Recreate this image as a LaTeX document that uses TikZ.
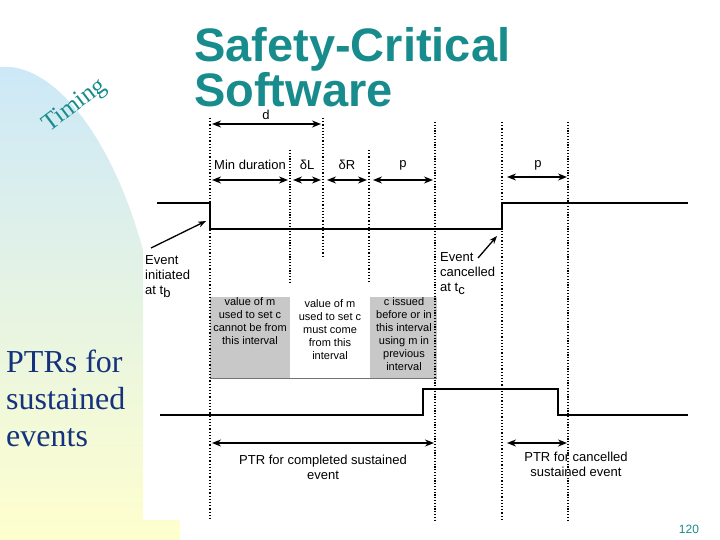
\documentclass[tikz,border=0pt]{standalone}
\usepackage{fontspec}
\setmainfont{Liberation Sans}
\newfontfamily\seriffont{Liberation Serif}
\usetikzlibrary{arrows.meta}
\definecolor{teal1}{RGB}{24,140,140}
\definecolor{navy1}{RGB}{20,50,125}
\definecolor{boxgray}{RGB}{200,200,200}
\begin{document}
\begin{tikzpicture}[x=1pt,y=-1pt,
  sig/.style={line width=2.4pt},
  dotsparse/.style={dotted,line width=1.2pt},
  dotdense/.style={dash pattern=on 1.2pt off 1.6pt,line width=1.3pt},
  dim/.style={line width=2.2pt,{Stealth[length=9pt,width=7pt]}-{Stealth[length=9pt,width=7pt]}},
  ptr/.style={line width=2.2pt,{Stealth[length=9pt,width=7pt]}-{Stealth[length=9pt,width=7pt]}},
  pointer/.style={line width=1.3pt,-{Stealth[length=8pt,width=6pt]}},
  lab/.style={font=\fontsize{13}{15}\selectfont,inner sep=0pt},
  boxtext/.style={font=\fontsize{11}{13}\selectfont,align=center,inner sep=1pt,anchor=north},
]
\useasboundingbox (0,0) rectangle (720,540);
% background
\shade[top color={rgb,255:red,204;green,232;blue,248},middle color={rgb,255:red,232;green,245;blue,226},bottom color={rgb,255:red,255;green,255;blue,206}]
 (0,67) .. controls (50,62) and (110,130) .. (143,250) -- (143,520) -- (180,520) -- (180,540) -- (0,540) -- cycle;
% titles
\node[font=\fontsize{47}{39}\selectfont\bfseries,text=teal1,align=left,anchor=north west,inner sep=0pt] (title) at (194,27) {Safety-Critical\\Software};
\node[font=\seriffont\fontsize{25}{28}\selectfont,text=teal1,rotate=37] (timing) at (75,106) {Timing};
\node[font=\seriffont\fontsize{32}{37}\selectfont,text=navy1,align=left,anchor=north west,inner sep=0pt] (ptrs) at (6,350) {PTRs for\\sustained\\events};
\node[font=\fontsize{12}{14}\selectfont,text=teal1] (pg) at (689,529) {120};
% grey boxes
\fill[boxgray] (210,297) rectangle (290,378);
\fill[boxgray] (370,297) rectangle (437,378);
\draw[line width=0.8pt,black!55] (210,378) -- (437,378);
% dotted lines
\coordinate (v1t) at (210,118); \coordinate (v1b) at (210,520);
\coordinate (v2t) at (290,150); \coordinate (v2b) at (290,284);
\coordinate (v3t) at (323,118); \coordinate (v3b) at (323,257);
\coordinate (v4t) at (369,150); \coordinate (v4b) at (369,284);
\coordinate (v5t) at (435,122); \coordinate (v5b) at (435,520);
\coordinate (v6t) at (502,122); \coordinate (v6b) at (502,520);
\coordinate (v7t) at (568,122); \coordinate (v7b) at (568,520);
\draw[dotsparse] (v1t) -- (v1b);
\draw[dotdense] (v2t) -- (v2b);
\draw[dotsparse] (v3t) -- (v3b);
\draw[dotsparse] (v4t) -- (v4b);
\draw[dotdense] (v5t) -- (v5b);
\draw[dotsparse] (v6t) -- (v6b);
\draw[dotdense] (v7t) -- (v7b);
% dimension arrows
\coordinate (da) at (212,124); \coordinate (db) at (321,124);
\draw[dim] (da) -- (db);
\node[lab] (dlab) at (266,115) {d};
\coordinate (m1) at (212,180); \coordinate (m2) at (288,180);
\coordinate (l1) at (293,180); \coordinate (l2) at (321,180);
\coordinate (r1) at (327,180); \coordinate (r2) at (367,180);
\coordinate (p1) at (373,180); \coordinate (p2) at (433,180);
\coordinate (q1) at (507,177); \coordinate (q2) at (567,177);
\draw[dim] (m1) -- (m2);
\draw[dim] (l1) -- (l2);
\draw[dim] (r1) -- (r2);
\draw[dim] (p1) -- (p2);
\draw[dim] (q1) -- (q2);
\node[lab] (mlab) at (250,165) {Min duration};
\node[lab] (dL) at (307,165) {δL};
\node[lab] (dR) at (347,165) {δR};
\node[lab] (plab) at (403,165) {p};
\node[lab] (qlab) at (538,165) {p};
% signal 1
\coordinate (s1a) at (157,203); \coordinate (s1b) at (210,203); \coordinate (s1c) at (210,229);
\coordinate (s1d) at (502,229); \coordinate (s1e) at (502,203); \coordinate (s1f) at (688,203);
\draw[sig] (s1a) -- (s1b) -- (s1c) -- (s1d) -- (s1e) -- (s1f);
% event labels
\node[lab,align=left,anchor=north west] (evb) at (145,255) {Event\\initiated\\at t\raisebox{-3.5pt}{b}};
\node[lab,align=left,anchor=north west] (evc) at (440,252) {Event\\cancelled\\at t\raisebox{-3.5pt}{c}};
\coordinate (ab1) at (151,248); \coordinate (ab2) at (206,221);
\draw[pointer] (ab1) -- (ab2);
\coordinate (ac1) at (478,258); \coordinate (ac2) at (497,236);
\draw[pointer] (ac1) -- (ac2);
% box texts
\node[boxtext] (bx1) at (250,296) {value of m\\used to set c\\cannot be from\\this interval};
\node[boxtext] (bx2) at (330,298) {value of m\\used to set c\\must come\\from this\\interval};
\node[boxtext] (bx3) at (404,296) {c issued\\before or in\\this interval\\using m in\\previous\\interval};
% signal 2
\coordinate (s2a) at (160,415); \coordinate (s2b) at (423,415); \coordinate (s2c) at (423,389);
\coordinate (s2d) at (558,389); \coordinate (s2e) at (558,415); \coordinate (s2f) at (688,415);
\draw[sig] (s2a) -- (s2b) -- (s2c) -- (s2d) -- (s2e) -- (s2f);
% PTR arrows
\coordinate (pa1) at (212,443); \coordinate (pa2) at (434,443);
\coordinate (pb1) at (507,443); \coordinate (pb2) at (567,443);
\draw[ptr] (pa1) -- (pa2);
\draw[ptr] (pb1) -- (pb2);
\node[lab,align=center] (ptr1) at (323,467) {PTR for completed sustained\\event};
\node[lab,align=center] (ptr2) at (576,464) {PTR for cancelled\\sustained event};
\end{tikzpicture}
\end{document}
